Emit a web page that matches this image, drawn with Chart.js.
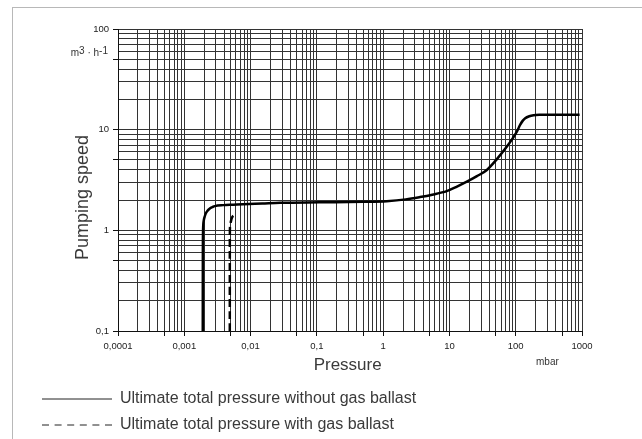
<!DOCTYPE html>
<html lang="en">
<head>
  <meta charset="UTF-8">
  <title>Pumping speed</title>
  <script src="https://cdn.jsdelivr.net/npm/chart.js"></script>
  <style>
    body {
      margin: 0;
      overflow: hidden;
      background: #fff;
      font-family: "Liberation Sans", Arial, sans-serif;
    }
    #frame {
      position: absolute;
      left: 12px;
      top: 7px;
      width: 700px;
      height: 500px;
      border-left: 1px solid #b8b8b8;
      border-top: 1px solid #b8b8b8;
    }
    #chart {
      position: absolute;
      left: 0;
      top: 0;
    }
    .unit {
      position: absolute;
      font-size: 10px;
      color: #333;
      white-space: nowrap;
    }
    #unitY {
      right: 534px;
      top: 47px;
    }
    #unitY span {
      position: relative;
      top: -2px;
    }
    #unitX {
      left: 536px;
      top: 356px;
    }
  </style>
</head>
<body>
  <div id="frame"></div>
  <canvas id="chart" width="642" height="443"></canvas>
  <div class="unit" id="unitY">m<span>3</span> · h<span>-1</span></div>
  <div class="unit" id="unitX">mbar</div>

  <script>
    // decades and their labels
    const xDecades = [0.0001, 0.001, 0.01, 0.1, 1, 10, 100, 1000];
    const xTickLabels = ['0,0001', '0,001', '0,01', '0,1', '1', '10', '100', '1000'];
    const yDecades = [0.1, 1, 10, 100];
    const yTickLabels = ['0,1', '1', '10', '100'];

    // without gas ballast (solid)
    const solidX = [0.00190, 0.001905, 0.00192, 0.00197, 0.00204, 0.00211, 0.00225, 0.00243, 0.00265, 0.00289, 0.00386, 0.0055, 0.0077,
      0.015, 0.028, 0.11, 0.5, 1.13, 2.2, 3.6, 5.5, 9.1, 13, 18.3, 26, 36.7, 52, 73.6, 90, 104, 117, 128, 139, 160, 186, 240, 296, 500, 920];
    const solidY = [0.1, 0.5, 1.0, 1.26, 1.38, 1.47, 1.57, 1.65, 1.70, 1.74, 1.78, 1.80, 1.82,
      1.85, 1.88, 1.90, 1.92, 1.95, 2.03, 2.14, 2.26, 2.45, 2.72, 3.04, 3.45, 3.98, 5.1, 6.79, 8.2, 9.57, 11.2, 12.3, 13.0, 13.6, 13.9, 14.05, 14.1, 14.1, 14.1];

    // with gas ballast (dashed)
    const dashX = [0.00486, 0.004865, 0.0049, 0.00504, 0.00527, 0.00565];
    const dashY = [0.1, 0.8, 1.08, 1.22, 1.35, 1.42];

    // grid values 1..9 in every decade
    function gridValues(decades) {
      const vals = [];
      for (let i = 0; i < decades.length - 1; i++) {
        for (let m = 1; m <= 9; m++) vals.push(+(decades[i] * m).toPrecision(6));
      }
      vals.push(decades[decades.length - 1]);
      return vals;
    }

    function labelFor(value, decades, labels) {
      const i = decades.findIndex(d => Math.abs(d - value) / d < 1e-6);
      return i >= 0 ? labels[i] : '';
    }

    // tick marks only at 1 and 5
    function tickMarkColor(ctx) {
      if (!ctx.tick) return 'rgba(0,0,0,0)';
      const v = ctx.tick.value;
      const s = Math.round(v / Math.pow(10, Math.floor(Math.log10(v) + 1e-9)));
      return (s === 1 || s === 5 || s === 10) ? '#111' : 'rgba(0,0,0,0)';
    }

    const tickFont = { family: '"Liberation Sans", Arial, sans-serif', size: 9.5 };
    const textColor = '#3a3a3a';

    const ctx = document.getElementById('chart').getContext('2d');
    const chart = new Chart(ctx, {
      type: 'line',
      data: {
        datasets: [{
          label: 'Ultimate total pressure without gas ballast',
          data: solidX.map((x, i) => ({ x: x, y: solidY[i] })),
          borderColor: '#000',
          borderWidth: 2.5,
          pointRadius: 0,
          fill: false,
          cubicInterpolationMode: 'monotone'
        }, {
          label: 'Ultimate total pressure with gas ballast',
          data: dashX.map((x, i) => ({ x: x, y: dashY[i] })),
          borderColor: '#000',
          borderWidth: 2.5,
          borderDash: [8, 4],
          pointRadius: 0,
          fill: false,
          cubicInterpolationMode: 'monotone'
        }]
      },
      options: {
        responsive: false,
        animation: false,
        layout: { padding: { left: 32, right: 60, top: 29, bottom: 0 } },
        plugins: {
          tooltip: { enabled: false },
          legend: {
            position: 'bottom',
            align: 'start',
            labels: {
              usePointStyle: true,
              pointStyleWidth: 70,
              padding: 10,
              color: textColor,
              font: { family: '"Liberation Sans", Arial, sans-serif', size: 16 },
              generateLabels: (c) => Chart.defaults.plugins.legend.labels.generateLabels(c).map((item, i) => ({
                ...item,
                pointStyle: 'line',
                lineWidth: 1,
                lineDash: i === 1 ? [7, 5.6] : [],
                strokeStyle: '#222',
                fillStyle: 'rgba(0,0,0,0)'
              }))
            }
          }
        },
        scales: {
          x: {
            type: 'logarithmic',
            min: 0.0001,
            max: 1000,
            afterBuildTicks: (axis) => { axis.ticks = gridValues(xDecades).map(v => ({ value: v })); },
            afterFit: (axis) => { axis.height = 50; },
            ticks: {
              autoSkip: false,
              maxRotation: 0,
              padding: 5,
              color: '#222',
              font: tickFont,
              callback: (value) => labelFor(value, xDecades, xTickLabels)
            },
            grid: {
              color: '#333',
              lineWidth: 1,
              tickLength: 5,
              tickColor: tickMarkColor
            },
            border: { color: '#111', width: 1 },
            title: {
              display: true,
              text: 'Pressure ',
              color: textColor,
              font: { family: '"Liberation Sans", Arial, sans-serif', size: 17 },
              padding: { top: 0, bottom: 5 }
            }
          },
          y: {
            type: 'logarithmic',
            min: 0.1,
            max: 100,
            afterBuildTicks: (axis) => { axis.ticks = gridValues(yDecades).map(v => ({ value: v })); },
            afterFit: (axis) => { axis.width = 86; },
            ticks: {
              autoSkip: false,
              padding: 4,
              color: '#222',
              font: tickFont,
              callback: (value) => labelFor(value, yDecades, yTickLabels)
            },
            grid: {
              color: '#333',
              lineWidth: 1,
              tickLength: 5,
              tickColor: tickMarkColor
            },
            border: { color: '#111', width: 1 },
            title: {
              display: true,
              text: 'Pumping speed       ',
              color: textColor,
              font: { family: '"Liberation Sans", Arial, sans-serif', size: 18 },
              padding: { top: 40, bottom: 0 }
            }
          }
        }
      }
    });
  </script>
</body>
</html>
